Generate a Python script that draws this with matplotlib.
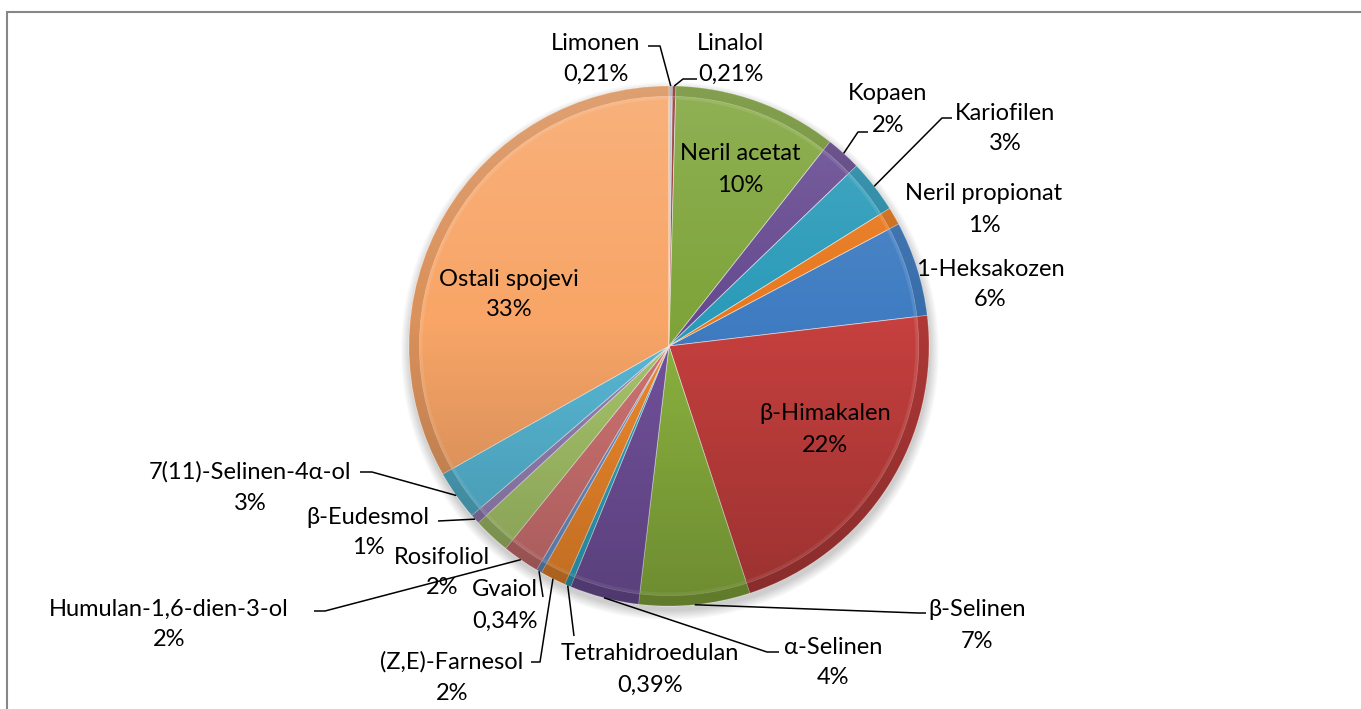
import numpy as np
import matplotlib
matplotlib.use("Agg")
import matplotlib.pyplot as plt
from matplotlib.patches import Wedge, Circle, Rectangle
from matplotlib.colors import to_rgb

plt.rcParams['font.family'] = ['Lato', 'DejaVu Sans']

# data (Excel series order, drawn clockwise)
names = ["1-Heksakozen", "β-Himakalen", "β-Selinen", "α-Selinen", "Tetrahidroedulan",
         "(Z,E)-Farnesol", "Gvaiol", "Humulan-1,6-dien-3-ol", "Rosifoliol", "β-Eudesmol",
         "7(11)-Selinen-4α-ol", "Ostali spojevi", "Limonen", "Linalol", "Neril acetat",
         "Kopaen", "Kariofilen", "Neril propionat"]
values = [5.9, 21.85, 6.9, 4.3, 0.39,
          1.6, 0.34, 2.3, 2.3, 0.6,
          3.1, 33.2, 0.21, 0.21, 10.2,
          2.2, 3.3, 1.1]
colors = ["#3f7cc2", "#c5403e", "#8cb33f", "#73529e", "#2ea6c2",
          "#f28a2c", "#6b93cb", "#d27473", "#a8c66b", "#9782b6",
          "#58b9d6", "#f8a567", "#b9c3d1", "#943634", "#7ea43a",
          "#664a90", "#2b9bb9", "#e8781e"]

W, H = 1361, 709
CX, CY, R = 669, 346, 260

def Y(y):
    return H - y

# label layout in pixel coords (y down): centre of name line, leader elbow, leader end
layout = {
    "Limonen": ((596, 41), (660, 46), (648, 46)),
    "Linalol": ((731, 41), (683, 79), (697, 79)),
    "Neril acetat": ((740, 152), None, None),
    "Kopaen": ((888, 92), (858, 132), (868, 132)),
    "Kariofilen": ((1005, 111), (942, 118), (952, 118)),
    "Neril propionat": ((984, 192), None, None),
    "1-Heksakozen": ((990, 267), None, None),
    "β-Himakalen": ((825, 412), None, None),
    "β-Selinen": ((977, 608), (918, 613), (926, 613)),
    "α-Selinen": ((833, 645), (767, 652), (779, 652)),
    "Tetrahidroedulan": ((650, 652), (574, 636), (574, 636)),
    "(Z,E)-Farnesol": ((452, 660), (540, 662), (531, 662)),
    "Gvaiol": ((505, 588), (543, 597), (543, 597)),
    "Humulan-1,6-dien-3-ol": ((169, 607), (325, 611), (314, 611)),
    "Rosifoliol": ((442, 555), None, None),
    "β-Eudesmol": ((368, 515), (438, 521), (438, 521)),
    "7(11)-Selinen-4α-ol": ((250, 470), (372, 472), (360, 472)),
    "Ostali spojevi": ((509, 277), None, None),
}

def pct_text(v):
    if v < 0.5:
        return f"{v:.2f}".replace(".", ",") + "%"
    return f"{v:.0f}%"

def shade(c, f):
    r, g, b = to_rgb(c)
    if f < 0:
        return (r * (1 + f), g * (1 + f), b * (1 + f))
    return (r + (1 - r) * f, g + (1 - g) * f, b + (1 - b) * f)

fig = plt.figure(figsize=(W / 100, H / 100), dpi=100, facecolor="white")
ax = fig.add_axes([0, 0, 1, 1])

# soft shadow under the pie
for k in range(10):
    ax.add_patch(Circle((CX + 1, Y(CY + 5)), R + 9 - k, color="black", alpha=0.018, lw=0, zorder=0))

start = 90 - 62.0
wedges, _ = ax.pie(values, colors=colors, startangle=start, counterclock=False,
                   center=(CX, Y(CY)), radius=R,
                   wedgeprops=dict(linewidth=0.6, edgecolor=(1, 1, 1, 0.55)))

for w, c in zip(wedges, colors):
    w.set_zorder(2)
    # bevel rim
    ax.add_patch(Wedge(w.center, R, w.theta1, w.theta2, width=R * 0.04,
                       facecolor=shade(c, -0.12), edgecolor=(1, 1, 1, 0.35), lw=0.5, zorder=3))
    ax.add_patch(Wedge(w.center, R * 0.96, w.theta1, w.theta2, width=R * 0.012,
                       facecolor=shade(c, 0.2), lw=0, alpha=0.5, zorder=3))

# light-to-dark gradient over the pie
ny = 300
t = np.linspace(0, 1, ny)[:, None] * np.ones((1, 2))
grad = np.zeros((ny, 2, 4))
top = t < 0.45
grad[..., :3] = np.where(top[..., None], 1.0, 0.0)
grad[..., 3] = np.where(top, 0.14 * (0.45 - t) / 0.45, 0.22 * (t - 0.45) / 0.55)
img = ax.imshow(grad, extent=(CX - R, CX + R, Y(CY + R), Y(CY - R)), aspect="auto",
                origin="upper", zorder=4, interpolation="bilinear")
img.set_clip_path(Circle((CX, Y(CY)), R, transform=ax.transData))

# labels and leader lines
fs = 17
for w, name, v in zip(wedges, names, values):
    (tx, ty), elbow, end = layout[name]
    ax.text(tx, Y(ty + 8.5), name, ha="center", va="baseline", fontsize=fs, color="black", zorder=6)
    ax.text(tx, Y(ty + 39.5), pct_text(v), ha="center", va="baseline", fontsize=fs, color="black", zorder=6)
    if elbow is not None:
        mid = np.radians((w.theta1 + w.theta2) / 2)
        ex, ey = CX + R * np.cos(mid), Y(CY) + R * np.sin(mid)
        ax.plot([ex, elbow[0], end[0]], [ey, Y(elbow[1]), Y(end[1])],
                color="black", lw=1.1, zorder=5, solid_capstyle="butt")

# chart area border
ax.add_patch(Rectangle((7.5, -5), W, Y(11.5) + 5, fill=False, edgecolor="#878787", lw=1.5, zorder=7))

ax.set_xlim(0, W)
ax.set_ylim(0, H)
ax.set_aspect("auto")
ax.axis("off")

plt.savefig("out.png", dpi=100, facecolor="white")
